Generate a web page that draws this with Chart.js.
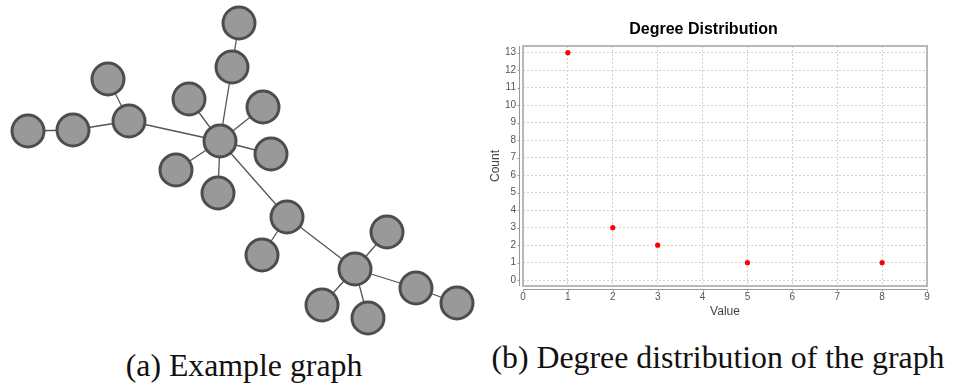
<!DOCTYPE html>
<html>
<head>
<meta charset="utf-8">
<script src="https://cdn.jsdelivr.net/npm/chart.js@4"></script>
<style>
  body { margin: 0; background: #fff; width: 953px; height: 388px; position: relative; overflow: hidden; }
  .box { position: absolute; }
  .cap { position: absolute; font-family: "Liberation Serif", serif; font-size: 31.8px; line-height: 32px; color: #111; white-space: nowrap; transform: translateX(-50%); }
</style>
</head>
<body>
<div class="box" style="left:0;top:0;width:480px;height:345px"><canvas id="graph"></canvas></div>
<div class="box" style="left:480px;top:0;width:473px;height:330px"><canvas id="chart"></canvas></div>
<div class="cap" style="left:244px;top:350px">(a) Example graph</div>
<div class="cap" style="left:718px;top:342px">(b) Degree distribution of the graph</div>
<script>
// example graph layout (node positions)
const nodeX = [239, 232, 108, 189, 263, 129, 28, 73, 220, 271, 176, 218, 287, 262, 387, 355, 416, 457, 322, 368];
const nodeY = [23, 67, 79, 99, 107, 121, 131, 130, 141, 154, 170, 193, 217, 255, 232, 269, 288, 303, 305, 318];
const edges = [
  [8, 1], [8, 3], [8, 4], [8, 9], [8, 10], [8, 11], [8, 5], [8, 12],
  [1, 0], [5, 2], [5, 7], [7, 6],
  [12, 13], [12, 15], [15, 14], [15, 16], [15, 18], [15, 19], [16, 17]
];

// degree distribution
const degreeValues = [1, 2, 3, 5, 8];
const degreeCounts = [13, 3, 2, 1, 1];
const valueTicks = [0, 1, 2, 3, 4, 5, 6, 7, 8, 9];
const countTicks = [0, 1, 2, 3, 4, 5, 6, 7, 8, 9, 10, 11, 12, 13];

const nodeData = nodeX.map((x, i) => ({ x: x, y: nodeY[i] }));
const graphSets = [{
  data: nodeData,
  order: 0,
  pointRadius: 16,
  pointHoverRadius: 16,
  pointBackgroundColor: '#999999',
  pointBorderColor: '#4d4d4d',
  pointBorderWidth: 3,
  showLine: false
}];
edges.forEach(e => {
  graphSets.push({
    data: [nodeData[e[0]], nodeData[e[1]]],
    order: 1,
    showLine: true,
    borderColor: '#555555',
    borderWidth: 1.3,
    pointRadius: 0
  });
});

new Chart(document.getElementById('graph'), {
  type: 'scatter',
  data: { datasets: graphSets },
  options: {
    responsive: true,
    maintainAspectRatio: false,
    animation: false,
    clip: false,
    layout: { padding: 0, autoPadding: false },
    plugins: { legend: { display: false }, tooltip: { enabled: false } },
    scales: {
      x: { display: false, min: 0, max: 480 },
      y: { display: false, min: 0, max: 345, reverse: true }
    }
  }
});

const frame = {
  id: 'frame',
  beforeDatasetsDraw(chart) {
    const { ctx, chartArea: a, scales: { x, y } } = chart;
    ctx.save();
    ctx.strokeStyle = '#b8b8b8';
    ctx.lineWidth = 2;
    ctx.strokeRect(a.left, a.top, a.right - a.left, a.bottom - a.top);
    ctx.strokeStyle = '#999999';
    ctx.lineWidth = 1;
    ctx.beginPath();
    const ax = a.left - 3.5;
    ctx.moveTo(ax, a.top); ctx.lineTo(ax, a.bottom);
    y.ticks.forEach(t => {
      const py = Math.round(y.getPixelForValue(t.value)) + 0.5;
      ctx.moveTo(ax - 2, py); ctx.lineTo(ax, py);
    });
    const ay = a.bottom + 3.5;
    ctx.moveTo(a.left, ay); ctx.lineTo(a.right, ay);
    x.ticks.forEach(t => {
      const px = Math.round(x.getPixelForValue(t.value)) + 0.5;
      ctx.moveTo(px, ay); ctx.lineTo(px, ay + 2);
    });
    ctx.stroke();
    ctx.restore();
  }
};

const grid = { color: '#cfcfcf', lineWidth: 1, drawTicks: false };
const tickFont = { family: 'Liberation Sans', size: 10 };
const titleFont = { family: 'Liberation Sans', size: 12 };

new Chart(document.getElementById('chart'), {
  type: 'scatter',
  data: {
    datasets: [{
      label: 'Degree',
      data: degreeValues.map((v, i) => ({ x: v, y: degreeCounts[i] })),
      pointRadius: 2.6,
      pointHoverRadius: 2.6,
      pointBackgroundColor: '#ff0000',
      pointBorderColor: '#ff0000',
      pointBorderWidth: 0
    }]
  },
  options: {
    responsive: true,
    maintainAspectRatio: false,
    animation: false,
    layout: { padding: { left: 0, right: 26, top: 0, bottom: 0 }, autoPadding: false },
    plugins: {
      legend: { display: false },
      tooltip: { enabled: false },
      title: {
        display: true,
        text: 'Degree Distribution',
        color: '#000',
        font: { family: 'Liberation Sans', size: 16, weight: 'bold' },
        padding: { top: 20.4, bottom: 6.4 }
      }
    },
    scales: {
      x: {
        min: 0, max: 9,
        ticks: { color: '#555', font: tickFont, padding: 5, maxRotation: 0 },
        grid: grid,
        border: { display: false, dash: [2, 2] },
        title: { display: true, text: 'Value', color: '#444', font: titleFont, padding: { top: 0, bottom: 11 } },
        afterBuildTicks(scale) { scale.ticks = valueTicks.map(v => ({ value: v })); },
        afterFit(scale) { scale.height = 44; }
      },
      y: {
        min: -0.33, max: 13.38,
        ticks: { color: '#555', font: tickFont, padding: 7 },
        grid: grid,
        border: { display: false, dash: [2, 2] },
        title: { display: true, text: 'Count', color: '#444', font: titleFont, padding: { top: 8, bottom: 0 } },
        afterBuildTicks(scale) { scale.ticks = countTicks.map(v => ({ value: v })); },
        afterFit(scale) { scale.width = 43; }
      }
    }
  },
  plugins: [frame]
});
</script>
</body>
</html>
